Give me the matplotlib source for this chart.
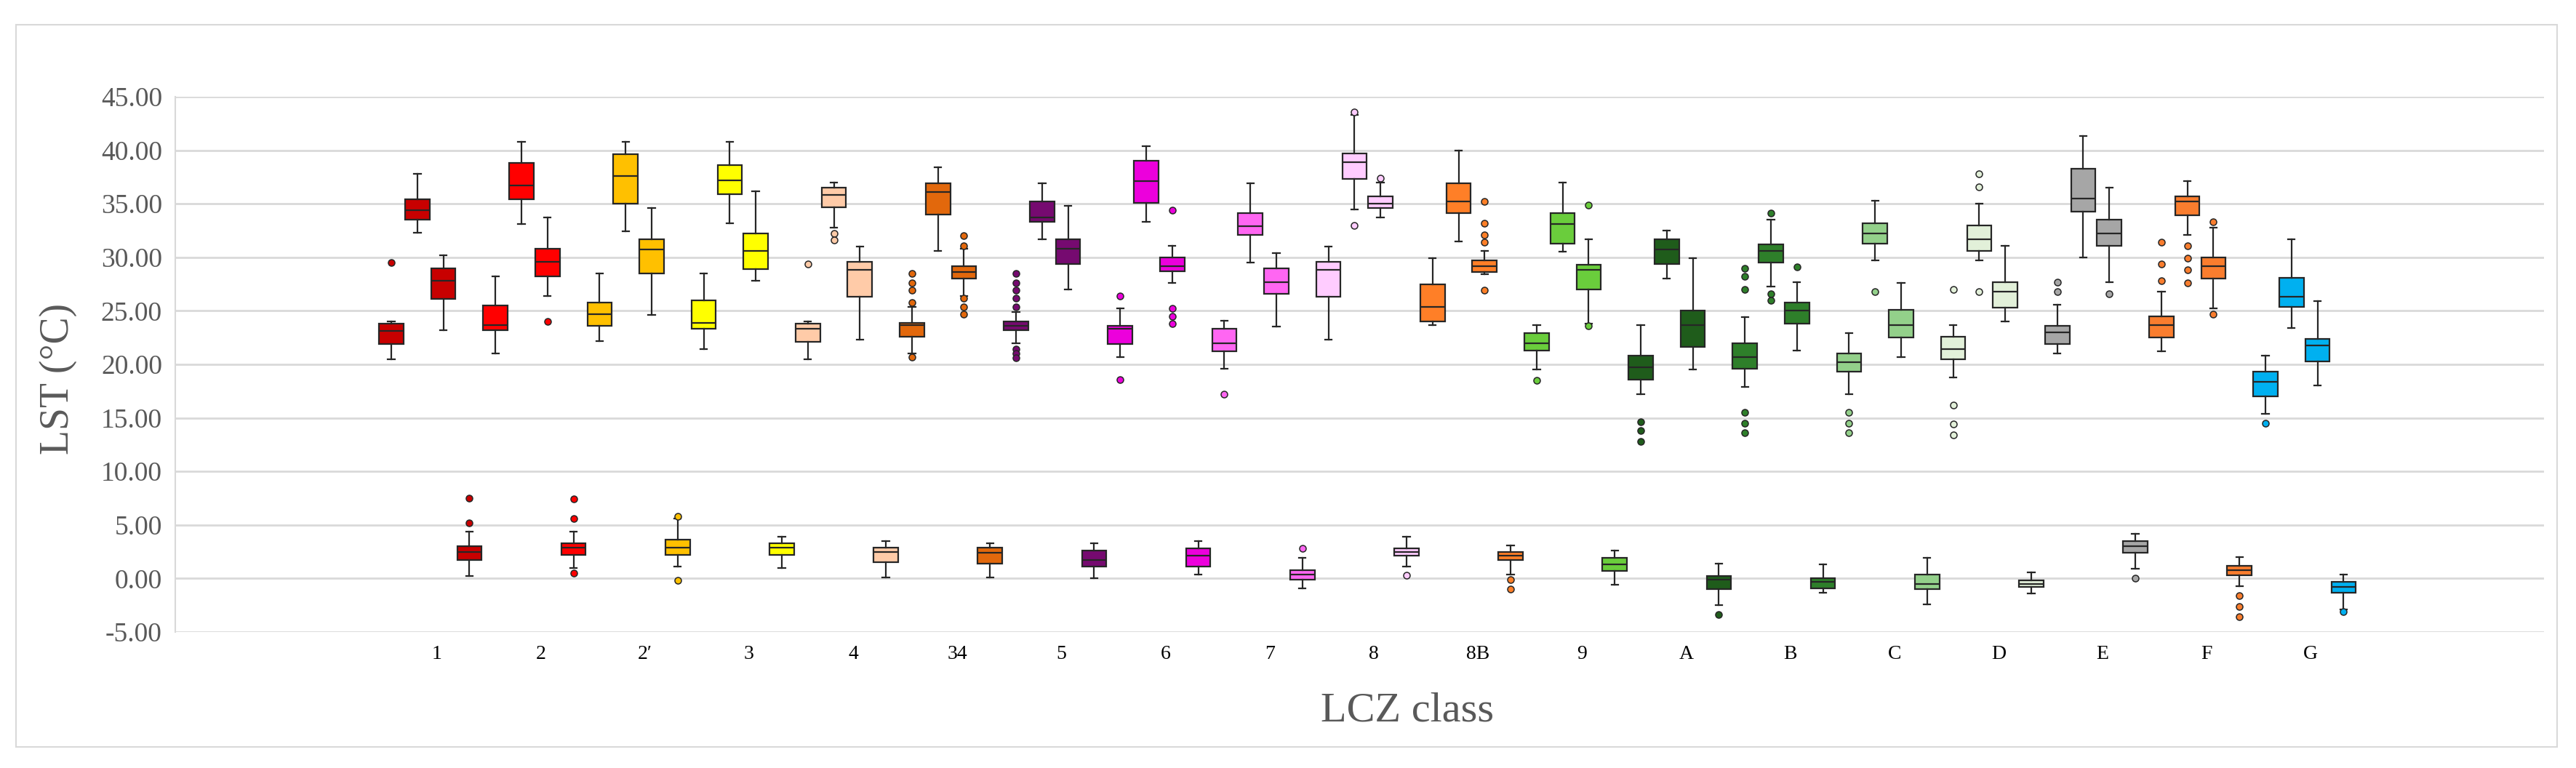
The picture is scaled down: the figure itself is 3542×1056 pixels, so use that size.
"""
LST por classe LCZ: quatro boxplots por classe (desenhados com bxp a partir
dos quartis lidos do grafico original).
"""

import numpy as np
import matplotlib.pyplot as plt
from matplotlib.patches import Rectangle

plt.rcParams['font.family'] = ['Liberation Serif', 'DejaVu Serif']

# Classes LCZ e cor de cada classe
classes = ['1', '2', '2\u2032', '3', '4', '34', '5', '6', '7', '8', '8B',
           '9', 'A', 'B', 'C', 'D', 'E', 'F', 'G']
cores = ['#C80000', '#FF0000', '#FFC000', '#FFFF00', '#FFCBA8', '#E2680C',
         '#760A70', '#EC00DC', '#FF66F2', '#FFCCFF', '#FF7F27', '#6ACD3C',
         '#1F5C1B', '#2E7F2A', '#93D08A', '#E2F0D9', '#A6A6A6', '#F97D2E',
         '#00B0F0']

# (whislo, q1, mediana, q3, whishi) por classe, uma lista por serie
serie1 = [(20.5, 21.9, 23.1, 23.8, 24.0), (21.0, 23.2, 23.7, 25.5, 28.2),
          (22.2, 23.6, 24.7, 25.8, 28.5), (21.4, 23.3, 23.9, 26.0, 28.5),
          (20.5, 22.1, 23.3, 23.8, 24.0), (21.0, 22.6, 23.7, 23.9, 25.4),
          (22.0, 23.2, 23.6, 24.0, 24.9), (20.7, 21.9, 23.3, 23.6, 25.2),
          (19.6, 21.2, 22.0, 23.3, 24.1), (22.3, 26.3, 28.8, 29.6, 31.0),
          (23.7, 24.0, 25.4, 27.5, 29.9), (19.5, 21.3, 22.0, 22.9, 23.7),
          (17.2, 18.6, 19.7, 20.8, 23.7), (17.9, 19.6, 20.7, 22.0, 24.4),
          (17.2, 19.3, 20.2, 21.0, 22.9), (18.8, 20.5, 21.4, 22.6, 23.7),
          (21.0, 21.9, 23.0, 23.6, 25.6), (21.2, 22.5, 23.7, 24.5, 26.8),
          (15.4, 17.0, 18.4, 19.3, 20.8)]
outliers1 = [[29.5], [], [], [], [29.4], [28.5, 27.6, 26.9, 25.8, 20.7],
             [28.5, 27.6, 26.9, 26.2, 25.4, 21.4, 21.0, 20.6], [26.4, 18.6],
             [17.2], [], [], [18.5], [14.6, 13.8, 12.8],
             [29.0, 28.2, 27.0, 15.5, 14.5, 13.6], [15.5, 14.5, 13.6],
             [27.0, 16.2, 14.4, 13.4], [27.7, 26.8], [31.4, 29.4, 27.8], [14.5]]

serie2 = [(32.3, 33.5, 34.4, 35.4, 37.8), (33.1, 35.4, 36.7, 38.8, 40.8),
          (32.4, 35.0, 37.6, 39.6, 40.8), (33.2, 35.9, 37.2, 38.6, 40.8),
          (32.8, 34.7, 35.8, 36.5, 37.0), (30.6, 34.0, 36.1, 36.9, 38.4),
          (31.7, 33.3, 33.7, 35.2, 36.9), (33.3, 35.1, 37.1, 39.0, 40.4),
          (29.5, 32.1, 32.9, 34.1, 36.9), (34.5, 37.3, 38.9, 39.7, 43.3),
          (31.5, 34.1, 35.2, 36.9, 40.0), (30.5, 31.3, 33.1, 34.1, 37.0),
          (28.0, 29.4, 30.7, 31.7, 32.5), (27.3, 29.5, 30.6, 31.2, 33.5),
          (29.7, 31.3, 32.2, 33.2, 35.3), (29.7, 30.6, 31.7, 33.0, 35.0),
          (30.0, 34.3, 35.5, 38.3, 41.3), (32.1, 33.9, 35.2, 35.7, 37.1),
          (23.4, 25.4, 26.3, 28.1, 31.7)]
outliers2 = [[], [], [], [], [32.2, 31.6], [], [], [], [], [43.6, 33.0], [],
             [], [], [34.1, 26.6, 26.0], [26.8], [37.8, 36.6, 26.8], [],
             [31.1, 29.9, 28.8, 27.6], []]

serie3 = [(23.2, 26.1, 27.8, 29.0, 30.2), (26.4, 28.2, 29.6, 30.8, 33.7),
          (24.6, 28.5, 30.7, 31.7, 34.6), (27.8, 28.9, 30.6, 32.2, 36.2),
          (22.3, 26.3, 28.8, 29.6, 31.0), (26.4, 28.0, 28.6, 29.2, 30.8),
          (27.0, 29.4, 30.8, 31.7, 34.8), (27.6, 28.7, 29.2, 30.0, 31.1),
          (23.5, 26.6, 27.7, 29.0, 30.4), (33.7, 34.6, 35.0, 35.7, 37.0),
          (28.4, 28.6, 29.2, 29.7, 30.6), (23.8, 27.0, 28.8, 29.3, 31.7),
          (19.5, 21.6, 23.7, 25.0, 29.9), (21.3, 23.8, 25.0, 25.8, 27.7),
          (20.7, 22.5, 23.7, 25.1, 27.6), (24.0, 25.3, 26.8, 27.7, 31.1),
          (27.7, 31.1, 32.2, 33.5, 36.5), (25.2, 28.0, 29.2, 30.0, 32.8),
          (18.0, 20.3, 21.8, 22.4, 25.9)]
outliers3 = [[], [24.0], [], [], [], [32.0, 31.1, 26.2, 25.4, 24.7], [],
             [34.4, 25.2, 24.5, 23.8], [], [37.4],
             [35.2, 33.2, 32.1, 31.4, 26.9], [34.9, 23.6], [], [29.1], [], [],
             [26.6], [33.3, 24.7], []]

serie4 = [(0.2, 1.7, 2.5, 3.0, 4.4), (1.0, 2.2, 2.9, 3.3, 4.4),
          (1.1, 2.2, 2.9, 3.6, 5.6), (1.0, 2.2, 2.9, 3.3, 3.9),
          (0.1, 1.5, 2.5, 2.9, 3.5), (0.1, 1.4, 2.4, 2.9, 3.3),
          (0.0, 1.1, 1.7, 2.6, 3.3), (0.4, 1.1, 2.1, 2.8, 3.5),
          (-0.9, -0.1, 0.4, 0.8, 1.9), (1.1, 2.1, 2.5, 2.8, 3.9),
          (0.4, 1.7, 2.1, 2.5, 3.1), (-0.6, 0.7, 1.3, 1.9, 2.6),
          (-2.5, -1.0, -0.1, 0.2, 1.4), (-1.3, -0.9, -0.3, 0.0, 1.3),
          (-2.4, -1.0, -0.5, 0.4, 1.9), (-1.4, -0.8, -0.5, -0.2, 0.6),
          (0.9, 2.4, 3.0, 3.5, 4.2), (-0.7, 0.3, 0.8, 1.2, 2.0),
          (-2.9, -1.3, -0.8, -0.3, 0.4)]
outliers4 = [[7.5, 5.2], [7.4, 5.6, 0.5], [5.8, -0.2], [], [], [], [], [],
             [2.8], [0.3], [-0.1, -1.0], [], [-3.4], [], [], [], [0.0],
             [-1.6, -2.6, -3.6], [-3.1]]

series = [(serie1, outliers1), (serie2, outliers2),
          (serie3, outliers3), (serie4, outliers4)]

# Figura com o tamanho do original (3542 x 1056 px)
W, H = 3542, 1056
fig = plt.figure(figsize=(W / 100, H / 100), dpi=100)
ax = fig.add_axes([241 / W, 1 - 869 / H, (3498 - 241) / W, (869 - 133) / H])

# moldura cinza da area do grafico (estilo Excel)
fig.patches.append(Rectangle((22 / W, 1 - 1027 / H), (3516 - 22) / W,
                             (1027 - 34) / H, transform=fig.transFigure,
                             fill=False, edgecolor='#D9D9D9', linewidth=1.5))

deslocamento = [-0.375, -0.125, 0.125, 0.375]
largura = 0.235
contorno = '#262626'

for s, (stats_serie, outs) in enumerate(series):
    for c, (lo, q1, med, q3, hi) in enumerate(stats_serie):
        st = [dict(whislo=lo, q1=q1, med=med, q3=q3, whishi=hi,
                   fliers=outs[c])]
        ax.bxp(st, positions=[c + deslocamento[s]], widths=largura,
               capwidths=0.065, showfliers=True, patch_artist=True,
               boxprops=dict(facecolor=cores[c], edgecolor=contorno,
                             linewidth=1.6),
               medianprops=dict(color=contorno, linewidth=1.6),
               whiskerprops=dict(color=contorno, linewidth=1.6),
               capprops=dict(color=contorno, linewidth=1.6),
               flierprops=dict(marker='o', markersize=6.5,
                               markerfacecolor=cores[c],
                               markeredgecolor=contorno,
                               markeredgewidth=1.1),
               manage_ticks=False)

ax.set_xlim(-2.45, 20.3)
ax.set_ylim(-5, 45)
ax.set_yticks(np.arange(-5, 46, 5))
ax.set_yticklabels(['%.2f' % v for v in np.arange(-5, 46, 5)])
ax.set_xticks(np.arange(len(classes)) + 0.06)
ax.set_xticklabels(classes)

ax.tick_params(axis='y', length=0, pad=13, labelsize=27, labelcolor='#595959')
ax.tick_params(axis='x', length=0, pad=13, labelsize=20, labelcolor='black')

ax.grid(axis='y', color='#D9D9D9', linewidth=2)
ax.set_axisbelow(True)
for lado in ['top', 'right', 'bottom']:
    ax.spines[lado].set_visible(False)
ax.spines['left'].set_color('#D9D9D9')
ax.spines['left'].set_linewidth(1.5)

fig.text(80 / W, 1 - 521 / H, 'LST (°C)', rotation=90, ha='center',
         va='center', fontsize=40, color='#595959')
fig.text(1935 / W, 1 - 977 / H, 'LCZ class', ha='center', va='center',
         fontsize=42, color='#595959')

fig.savefig('out.png', dpi=100, facecolor='white')
